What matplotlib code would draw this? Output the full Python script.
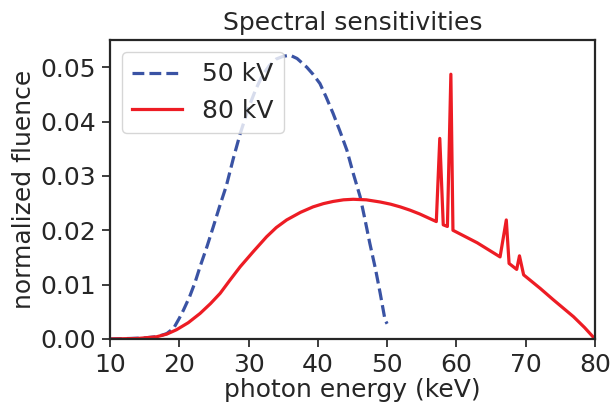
import matplotlib
matplotlib.use('Agg')
import matplotlib.pyplot as plt

# 50 kV spectrum
energy_50 = [10, 13, 15.0, 16.5, 17.5, 18.2, 19.2, 20.0, 20.6, 21.5, 22.3, 23.0,
             24.0, 24.9, 25.8, 26.8, 27.8, 28.8, 30.0, 31.0, 32.0, 33.0, 34.0,
             35.0, 36.0, 37.0, 38.4, 39.3, 40.3, 41.2, 42.2, 43.2, 44.2, 45.1,
             46.1, 46.8, 47.5, 48.3, 49.0, 49.7, 50.0]
fluence_50 = [0.0, 0.0001, 0.0002, 0.0004, 0.0007, 0.0010, 0.0020, 0.0038, 0.0053,
              0.0078, 0.0105, 0.0133, 0.0170, 0.0206, 0.0243, 0.0282, 0.0332, 0.0378,
              0.0425, 0.0458, 0.0485, 0.0503, 0.0515, 0.0520, 0.0522, 0.0516, 0.0500,
              0.0487, 0.0470, 0.0445, 0.0415, 0.0382, 0.0347, 0.0305, 0.0262, 0.0220,
              0.0176, 0.0130, 0.0084, 0.0035, 0.0028]

# 80 kV spectrum
energy_80 = [10, 14, 16.7, 18.2, 19.6, 21.3, 23.0, 24.5, 25.9, 27.3, 28.8, 30.7,
             32.6, 34.0, 35.5, 37.5, 39.3, 40.8, 42.2, 43.7, 45.1, 47.0, 49.0,
             50.5, 51.9, 53.3, 54.7, 57.1, 57.6, 58.1, 58.7, 59.2, 59.5, 63.0,
             66.3, 67.2, 67.6, 68.7, 69.1, 69.7, 72.1, 74.0, 76.9, 78.5, 80.0]
fluence_80 = [0.0, 0.0001, 0.0004, 0.0009, 0.0017, 0.0030, 0.0047, 0.0065, 0.0084,
              0.0108, 0.0133, 0.0161, 0.0188, 0.0205, 0.0219, 0.0233, 0.0243, 0.0249,
              0.0253, 0.0256, 0.0257, 0.0256, 0.0252, 0.0248, 0.0243, 0.0237, 0.0230,
              0.0216, 0.0369, 0.0210, 0.0207, 0.0487, 0.0200, 0.0177, 0.0151, 0.0219,
              0.0139, 0.0128, 0.0153, 0.0118, 0.0093, 0.0072, 0.0041, 0.0021, 0.0]

x_ticks = [10, 20, 30, 40, 50, 60, 70, 80]
y_ticks = [0.00, 0.01, 0.02, 0.03, 0.04, 0.05]

FS = 18
plt.rcParams['font.family'] = 'DejaVu Sans'
plt.rcParams['font.size'] = FS
plt.rcParams['text.color'] = '#262626'
plt.rcParams['axes.labelcolor'] = '#262626'
plt.rcParams['xtick.color'] = '#262626'
plt.rcParams['ytick.color'] = '#262626'
plt.rcParams['axes.edgecolor'] = '#262626'

fig = plt.figure(figsize=(6.12, 4.04), dpi=100)
ax = fig.add_axes([0.1797, 0.1609, 0.7925, 0.7401])

ax.plot(energy_50, fluence_50, '--', color='#3a53a4', lw=2.3, label='50 kV')
ax.plot(energy_80, fluence_80, '-', color='#ed1c24', lw=2.3, label='80 kV')

ax.set_xlim(10, 80)
ax.set_ylim(0, 0.055)
ax.set_xticks(x_ticks)
ax.set_yticks(y_ticks)
ax.set_yticklabels([f'{v:.2f}' for v in y_ticks])
ax.tick_params(direction='out', length=6, width=1.25, labelsize=FS, pad=4)
for s in ax.spines.values():
    s.set_linewidth(1.6)

ax.set_xlabel('photon energy (keV)', fontsize=FS, labelpad=1)
ax.set_ylabel('normalized fluence', fontsize=FS, labelpad=3)
ax.set_title('Spectral sensitivities', fontsize=FS, pad=7)
ax.legend(loc='upper left', fontsize=FS, framealpha=0.8, edgecolor='#cccccc')

plt.savefig('out.png', dpi=100)
